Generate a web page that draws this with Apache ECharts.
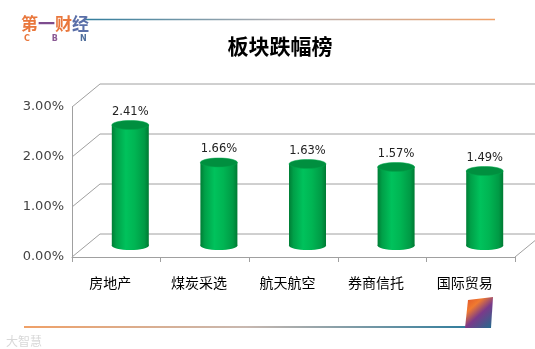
<!DOCTYPE html>
<html><head><meta charset="utf-8">
<script src="https://cdn.jsdelivr.net/npm/echarts@6/dist/echarts.min.js"></script>
<style>html,body{margin:0;padding:0;background:#fff}#c{width:535px;height:349px}</style>
</head><body><div id="c"></div>
<script>
var categories = ['房地产', '煤炭采选', '航天航空', '券商信托', '国际贸易'];
var values = [2.41, 1.66, 1.63, 1.57, 1.49];
var yTicks = [0, 1, 2, 3];
var titleText = '板块跌幅榜';

var DX = 28, DY = 23, BAR_W = 37;
var chart = echarts.init(document.getElementById('c'), null, {renderer: 'canvas'});

function pct(v) { return v.toFixed(2) + '%'; }

var bodyGrad = new echarts.graphic.LinearGradient(0, 0, 1, 0, [
  {offset: 0, color: '#007d35'}, {offset: 0.12, color: '#00a048'},
  {offset: 0.38, color: '#00c25c'}, {offset: 0.62, color: '#00b553'},
  {offset: 0.88, color: '#009a45'}, {offset: 1, color: '#007a33'}
]);

var option = {
  animation: false,
  backgroundColor: '#fff',
  title: {
    text: titleText, left: 275, top: 31, textAlign: 'center',
    textStyle: {fontFamily: 'Noto Sans CJK SC', fontSize: 21, fontWeight: 'bold', color: '#000'}
  },
  grid: {left: 72, right: 20, top: 107, bottom: 92},
  xAxis: {
    type: 'category', data: categories,
    axisLine: {lineStyle: {color: '#a0a0a0', width: 1}},
    axisTick: {show: true, length: 5, lineStyle: {color: '#a0a0a0'}},
    axisLabel: {margin: 19, fontFamily: 'Noto Sans CJK SC', fontSize: 14, color: '#000', padding: [0, 12, 0, 0]}
  },
  yAxis: {
    type: 'value', min: 0, max: 3, interval: 1,
    axisLine: {show: true, lineStyle: {color: '#a0a0a0'}},
    axisTick: {show: false},
    splitLine: {show: false},
    axisLabel: {formatter: function (v) { return pct(v); }, margin: 8, fontFamily: 'DejaVu Sans', fontSize: 13, color: '#444'}
  },
  series: [
    {
      type: 'custom', name: 'walls', silent: true, z: 1,
      data: yTicks,
      renderItem: function (params, api) {
        var cs = params.coordSys;
        var y = api.coord([0, api.value(0)])[1];
        var x0 = cs.x, x1 = cs.x + cs.width;
        var children = [{
          type: 'polyline',
          shape: {points: [[x0, y], [x0 + DX, y - DY], [x1 + DX, y - DY]]},
          style: {stroke: '#a0a0a0', lineWidth: 1, fill: null}
        }];
        if (api.value(0) === 0) {
          children.push({type: 'line', shape: {x1: x1, y1: y, x2: x1 + DX, y2: y - DY},
            style: {stroke: '#a0a0a0', lineWidth: 1}});
        }
        return {type: 'group', children: children};
      }
    },
    {
      type: 'custom', name: '跌幅', z: 5,
      data: values.map(function (v, i) { return [i, v]; }),
      renderItem: function (params, api) {
        var idx = api.value(0), val = api.value(1);
        var top = api.coord([idx, val]);
        var base = api.coord([idx, 0]);
        var cx = top[0] + DX / 2;
        var ty = top[1] - DY / 2;
        var by = base[1] - DY / 2;
        var rx = BAR_W / 2, ry = 4.5;
        return {
          type: 'group',
          children: [
            {type: 'ellipse', shape: {cx: cx, cy: by, rx: rx, ry: ry}, style: {fill: bodyGrad}},
            {type: 'rect', shape: {x: cx - rx, y: ty, width: BAR_W, height: by - ty}, style: {fill: bodyGrad}},
            {type: 'ellipse', shape: {cx: cx, cy: ty, rx: rx, ry: ry}, style: {fill: '#008f3f', stroke: '#00a84c', lineWidth: 0.5}},
            {type: 'text', x: cx, y: ty - 13, style: {text: pct(val), textAlign: 'center', textVerticalAlign: 'middle',
              fontFamily: 'DejaVu Sans', fontSize: 11.5, fill: '#222'}}
          ]
        };
      }
    }
  ],
  graphic: [
    {type: 'line', shape: {x1: 85, y1: 19.5, x2: 495, y2: 19.5}, style: {lineWidth: 1.5,
      stroke: new echarts.graphic.LinearGradient(0, 0, 1, 0, [{offset: 0, color: '#2f7c9c'}, {offset: 0.5, color: '#b9b2b4'}, {offset: 1, color: '#f0a066'}])}},
    {type: 'text', x: 21, y: 15, style: {text: '{a|第}{b|一}{a|财}{c|经}', rich: {
      a: {fontFamily: 'Noto Sans CJK SC', fontSize: 17, fontWeight: 'bold', fill: '#e9773c', color: '#e9773c'},
      b: {fontFamily: 'Noto Sans CJK SC', fontSize: 17, fontWeight: 'bold', fill: '#7d4c8e', color: '#7d4c8e'},
      c: {fontFamily: 'Noto Sans CJK SC', fontSize: 17, fontWeight: 'bold', fill: '#5a6fa8', color: '#5a6fa8'}
    }}},
    {type: 'text', x: 24, y: 35, style: {text: '{a|C}{s| }{b|B}{s| }{c|N}', rich: {
      a: {fontFamily: 'DejaVu Sans', fontSize: 8, fontWeight: 'bold', fill: '#e9773c', color: '#e9773c'},
      b: {fontFamily: 'DejaVu Sans', fontSize: 8, fontWeight: 'bold', fill: '#8a5a94', color: '#8a5a94'},
      c: {fontFamily: 'DejaVu Sans', fontSize: 8, fontWeight: 'bold', fill: '#4f6e9c', color: '#4f6e9c'},
      s: {width: 22, fontSize: 8}
    }}},
    {type: 'line', shape: {x1: 24, y1: 327, x2: 468, y2: 327}, style: {lineWidth: 2,
      stroke: new echarts.graphic.LinearGradient(0, 0, 1, 0, [{offset: 0, color: '#f0a066'}, {offset: 0.5, color: '#c8b8b0'}, {offset: 1, color: '#2f7c9c'}])}},
    {type: 'polygon', shape: {points: [[468, 300], [493, 297], [491, 328], [465, 328]]}, style: {
      fill: new echarts.graphic.LinearGradient(0, 0, 1, 1, [{offset: 0, color: '#e0502a'}, {offset: 0.3, color: '#f07a30'}, {offset: 0.55, color: '#7a3a8a'}, {offset: 1, color: '#1f6e8e'}])}},
    {type: 'text', x: 6, y: 335, style: {text: '大智慧', fontFamily: 'Noto Sans CJK SC', fontSize: 12, fill: '#d8d8d8'}}
  ]
};
chart.setOption(option);
</script></body></html>
